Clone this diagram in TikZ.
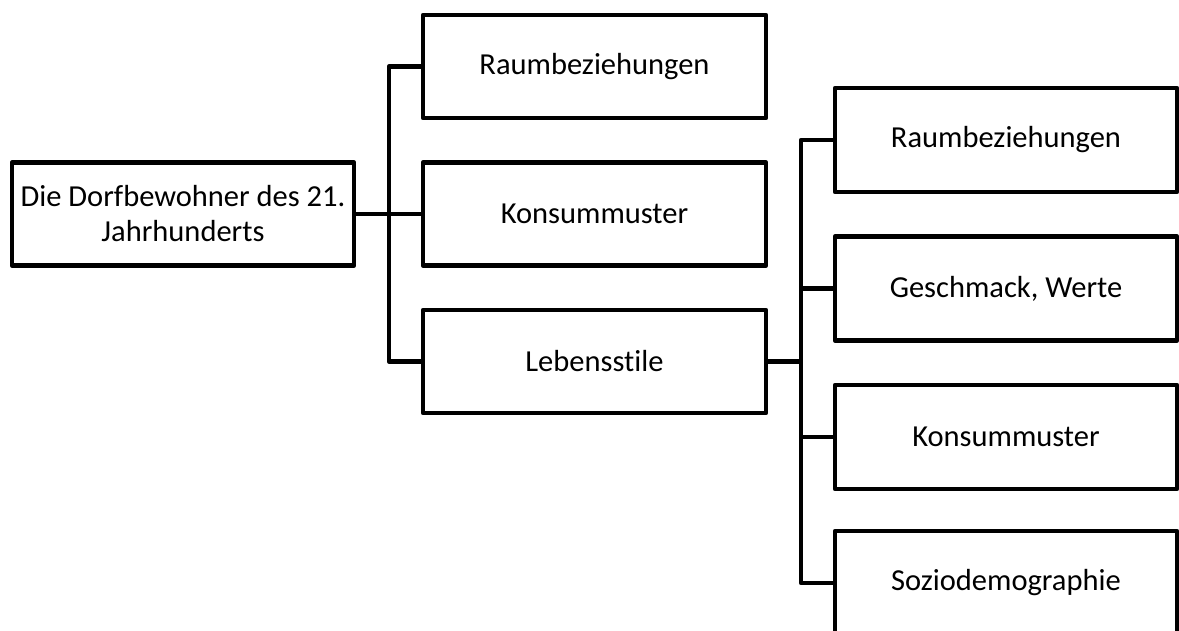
\documentclass[tikz,border=0pt]{standalone}
\usepackage{fontspec}
\setmainfont{Carlito}[Ligatures=CommonOff]
\begin{document}
\begin{tikzpicture}[x=1pt,y=-1pt,
  box/.style={draw, line width=4.7pt, line join=round, fill=white, align=center, inner sep=0pt,
    font=\fontsize{30.5}{35}\selectfont},
  rootbox/.style={box, minimum width=342pt, minimum height=103pt},
  midbox/.style={box, minimum width=343pt, minimum height=103pt},
  leafbox/.style={box, minimum width=342pt, minimum height=104pt},
  link/.style={draw, line width=4.7pt, line join=round}]
  \useasboundingbox (0,0) rectangle (1179,630);
  \clip (0,0) rectangle (1179,630);

  % root
  \node[rootbox] (root) at (183,214) {Die Dorfbewohner des 21.\\Jahrhunderts};

  % first level
  \node[midbox] (ma) at (594.5,66.5)  {Raumbeziehungen};
  \node[midbox] (mb) at (594.5,214)   {Konsummuster};
  \node[midbox] (mc) at (594.5,361.5) {Lebensstile};

  % second level (below Lebensstile)
  \node[leafbox] (la) at (1006,140)   {Raumbeziehungen};
  \node[leafbox] (lb) at (1006,288.5) {Geschmack, Werte};
  \node[leafbox] (lc) at (1006,437)   {Konsummuster};
  \node[leafbox] (ld) at (1006,583)   {Soziodemographie};

  % connectors of the first level
  \coordinate (j1) at (389,214);
  \path[link] (root.east) -- (mb.west);
  \path[link] (ma.west) -| (j1) |- (mc.west);

  % connectors of the second level
  \coordinate (j2) at (801,361.5);
  \path[link] (mc.east) -- (j2);
  \path[link] (la.west) -| (j2) |- (ld.west);
  \path[link] (j2 |- lb.west) -- (lb.west);
  \path[link] (j2 |- lc.west) -- (lc.west);
\end{tikzpicture}
\end{document}
